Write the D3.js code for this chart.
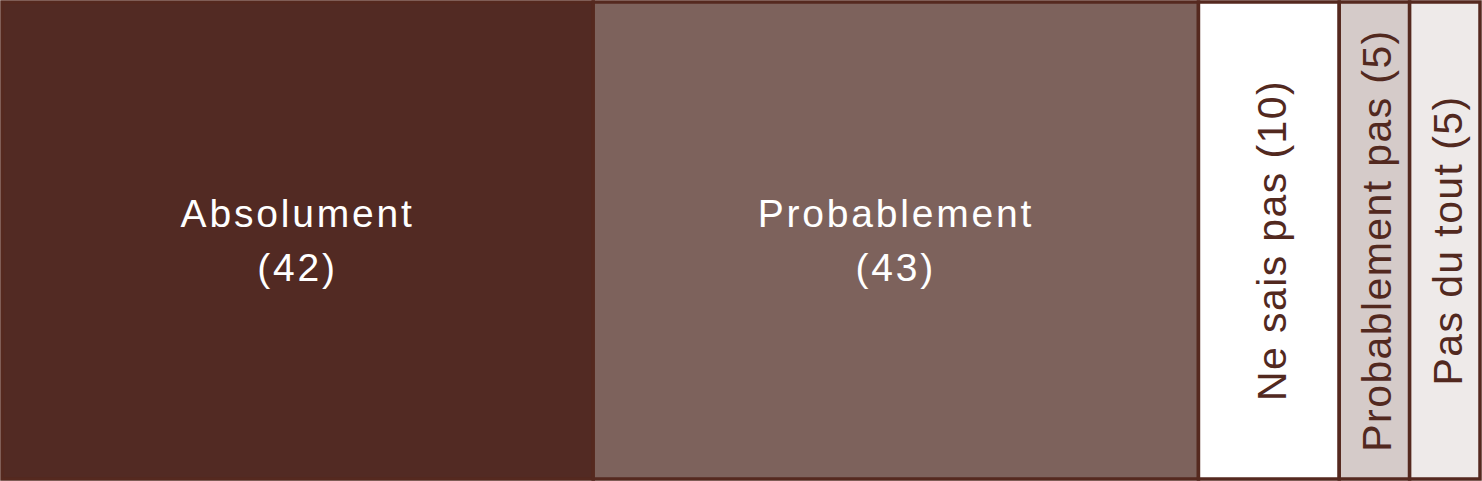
<!DOCTYPE html>
<html>
<head>
<meta charset="utf-8">
<script src="https://cdn.jsdelivr.net/npm/d3@7"></script>
<style>
  html, body { margin: 0; padding: 0; background: #fff; }
  svg { display: block; }
</style>
</head>
<body>
<div id="chart"></div>
<script>
// answers, left to right
const categories = ["Absolument", "Probablement", "Ne sais pas", "Probablement pas", "Pas du tout"];
const counts = [42, 43, 10, 5, 5];
const fills = ["#522a23", "#7d625c", "#ffffff", "#d5cbc9", "#eeeae9"];
const textColors = ["#ffffff", "#ffffff", "#52291f", "#52291f", "#52291f"];
const vertical = [false, false, true, true, true];

const width = 1482, height = 481;
const border = "#55291f";

const svg = d3.select("#chart").append("svg")
    .attr("width", width)
    .attr("height", height);

// stack the counts
let acc = 0;
const data = categories.map((c, i) => {
  const d = {name: c, value: counts[i], x0: acc, x1: acc + counts[i], i: i};
  acc += counts[i];
  return d;
});

const x = d3.scaleLinear()
    .domain([0, d3.sum(counts)])
    .range([2, 1480]);

const y0 = 2, y1 = 479;

const seg = svg.selectAll("g.seg")
    .data(data)
  .enter().append("g")
    .attr("class", "seg");

seg.append("rect")
    .attr("x", d => x(d.x0))
    .attr("y", y0)
    .attr("width", d => x(d.x1) - x(d.x0))
    .attr("height", y1 - y0)
    .attr("fill", d => fills[d.i])
    .attr("stroke", border)
    .attr("stroke-width", 3.5);

const font = "'Liberation Sans', Arial, sans-serif";

// horizontal labels on the two big blocks
seg.filter(d => !vertical[d.i]).each(function(d) {
  const cx = (x(d.x0) + x(d.x1)) / 2;
  const t = d3.select(this).append("text")
      .attr("text-anchor", "middle")
      .attr("fill", textColors[d.i])
      .style("font-family", font)
      .style("font-size", "39px")
      .style("letter-spacing", "2.8px");
  t.append("tspan").attr("x", cx).attr("y", 227).text(d.name);
  t.append("tspan").attr("x", cx).attr("y", 281).text("(" + d.value + ")");
});

// rotated labels on the narrow ones
seg.filter(d => vertical[d.i]).append("text")
    .attr("transform", d => `translate(${(x(d.x0) + x(d.x1)) / 2 + 2},${(y0 + y1) / 2}) rotate(-90)`)
    .attr("text-anchor", "middle")
    .attr("dy", "0.36em")
    .attr("fill", d => textColors[d.i])
    .style("font-family", font)
    .style("font-size", "41px")
    .style("letter-spacing", "1.4px")
    .text(d => d.name + " (" + d.value + ")");
</script>
</body>
</html>
